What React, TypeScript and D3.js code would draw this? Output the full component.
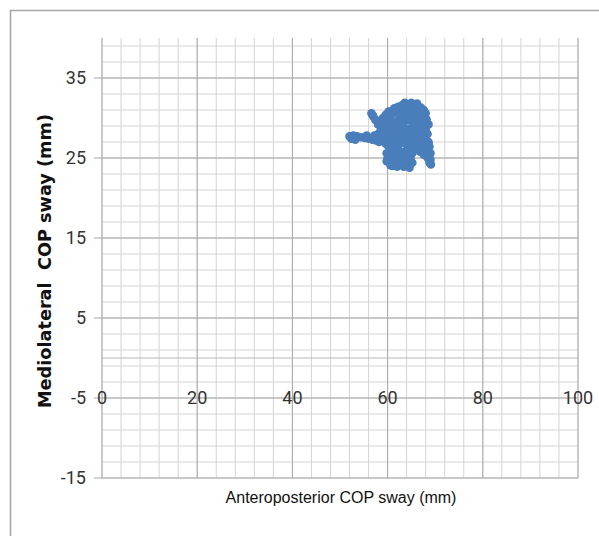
import React from "react";
import * as d3 from "d3";

// Anteroposterior (x) and mediolateral (y) COP sway samples, mm
const apSway: number[] = [
  52.0, 52.8, 53.6, 54.4, 55.2, 56.0, 56.8, 57.5, 58.2, 58.8, 59.2, 58.6, 58.0, 57.4, 56.8, 56.6,
  57.0, 57.8, 58.6, 59.4, 60.0, 60.6, 61.4, 62.2, 63.0, 63.8, 64.6, 65.4, 66.2, 67.0, 67.6, 68.0,
  67.4, 66.6, 65.8, 65.0, 64.2, 63.4, 62.6, 61.8, 61.0, 60.2, 59.6, 60.0, 60.8, 61.6, 62.4, 63.2,
  64.0, 64.8, 65.6, 66.4, 67.2, 68.0, 68.6, 68.8, 68.2, 67.4, 66.6, 65.8, 65.0, 64.4, 64.8, 65.2,
  64.6, 63.8, 63.0, 62.2, 61.4, 60.6, 60.0, 59.8, 60.4, 61.2, 62.0, 62.8, 63.6, 64.2, 63.6, 62.8,
  62.0, 61.4, 61.0, 61.6, 62.4, 63.2, 64.0, 64.8, 65.6, 66.4, 67.2, 68.2, 68.6, 68.0, 67.4, 66.6,
  65.8, 65.0, 64.2, 63.4, 62.6, 61.8, 61.0, 60.4, 59.8, 59.4, 60.0, 60.8, 61.6, 62.4, 63.2, 64.0,
  65.0, 66.0, 67.0, 66.2, 65.4, 64.6, 62.2, 61.4, 60.6, 60.0, 66.8, 67.6, 68.4, 68.8, 69.0,
  59.0, 59.6, 60.4, 61.2, 62.0, 62.6, 63.4, 64.2, 65.0, 65.8, 66.8, 67.6, 68.4, 68.6, 67.8, 67.0,
  66.0, 64.0, 63.2, 62.4, 61.6, 60.8, 60.2, 61.0, 62.0, 63.4, 64.6, 65.2, 63.0, 64.4, 65.4, 62.0,
  62.8, 63.6, 64.6, 65.4, 66.8, 67.8, 60.2, 59.6, 59.0, 66.2, 63.6, 65.0, 58.0, 57.2, 55.6, 53.2,
  52.4, 69.0, 69.1, 59.8, 60.6
];
const mlSway: number[] = [
  27.7, 27.8, 27.7, 27.6, 27.5, 27.4, 27.3, 27.2, 27.0, 27.4, 28.0, 28.6, 29.2, 29.8, 30.4, 30.6,
  30.2, 29.6, 29.2, 29.6, 30.2, 30.8, 31.2, 31.4, 31.6, 31.5, 31.7, 31.6, 31.5, 31.3, 31.0, 30.6,
  30.2, 30.4, 30.0, 29.6, 29.8, 29.4, 29.0, 28.6, 28.2, 27.8, 27.2, 26.6, 26.2, 26.6, 27.0, 27.4,
  27.8, 28.2, 28.6, 28.2, 27.8, 27.4, 27.0, 26.4, 26.0, 26.4, 26.8, 26.4, 26.0, 25.6, 25.0, 24.4,
  24.2, 24.4, 24.2, 24.4, 24.3, 24.6, 25.0, 25.6, 25.8, 25.6, 25.4, 25.6, 25.8, 26.2, 26.9, 27.2,
  27.6, 28.0, 28.8, 29.4, 29.8, 30.2, 30.6, 30.8, 31.0, 30.8, 30.6, 29.8, 29.2, 28.6, 29.0, 29.4,
  29.0, 28.8, 28.6, 28.2, 28.4, 28.8, 29.6, 29.0, 28.4, 28.8, 29.8, 30.4, 30.6, 30.6, 30.8, 31.2,
  31.4, 31.2, 30.0, 27.6, 27.2, 27.0, 26.4, 27.0, 27.4, 28.6, 25.8, 25.4, 25.0, 24.4, 24.8,
  27.6, 26.8, 26.9, 26.8, 26.6, 26.8, 27.0, 27.4, 27.6, 27.9, 28.2, 28.4, 28.0, 26.8, 26.8, 27.2,
  26.2, 25.2, 25.0, 24.8, 24.9, 25.2, 24.5, 24.0, 23.9, 23.9, 23.8, 25.6, 28.0, 28.0, 28.0, 28.2,
  29.6, 29.8, 30.2, 30.4, 29.8, 30.2, 30.8, 30.4, 30.0, 31.8, 31.9, 31.9, 28.0, 27.8, 27.8, 27.3,
  27.4, 25.6, 24.2, 24.6, 24.1
];

const xTicks = [0, 20, 40, 60, 80, 100];
const yTicks = [-15, -5, 5, 15, 25, 35];

const W = 599;
const H = 536;

export default function App() {
  const x = d3.scaleLinear().domain([0, 100]).range([102, 578]);
  const y = d3.scaleLinear().domain([-15, 40]).range([478, 38]);

  const xMinor = d3.range(0, 100.001, 4);
  const yMinor = d3.range(-15, 39.001, 2);

  const tickFont = "'Liberation Sans Narrow', 'Roboto', sans-serif";

  return (
    <svg
      width={W}
      height={H}
      style={{ position: "absolute", left: 0, top: 0, background: "#fff" }}
    >
      <rect x={0} y={0} width={W} height={H} fill="#fff" />
      {/* outer frame */}
      <line x1={10} y1={10.5} x2={W} y2={10.5} stroke="#a6a6a6" strokeWidth={1.6} />
      <line x1={10.5} y1={10} x2={10.5} y2={H} stroke="#a6a6a6" strokeWidth={1.6} />

      {/* minor grid */}
      {xMinor.map((v) => (
        <line key={"xm" + v} x1={x(v)} x2={x(v)} y1={y(40)} y2={y(-15)} stroke="#d4d4d4" strokeWidth={1} />
      ))}
      {yMinor.map((v) => (
        <line key={"ym" + v} x1={x(0)} x2={x(100)} y1={y(v)} y2={y(v)} stroke="#d4d4d4" strokeWidth={1} />
      ))}
      {/* major grid */}
      {xTicks.map((v) => (
        <line key={"xM" + v} x1={x(v)} x2={x(v)} y1={y(40)} y2={y(-15)} stroke="#a8a8a8" strokeWidth={1} />
      ))}
      {yTicks.map((v) => (
        <line key={"yM" + v} x1={x(0) - 8} x2={x(100)} y1={y(v)} y2={y(v)} stroke="#a8a8a8" strokeWidth={1} />
      ))}
      {/* zero line */}
      <line x1={x(0)} x2={x(100)} y1={y(0)} y2={y(0)} stroke="#b8b8b8" strokeWidth={1} />

      {/* points */}
      {apSway.map((v, i) => (
        <circle key={"p" + i} cx={x(v)} cy={y(mlSway[i])} r={4.3} fill="#4A7EBB" />
      ))}

      {/* y tick labels */}
      {yTicks.map((v) => (
        <text
          key={"yl" + v}
          x={86}
          y={y(v)}
          dy="0.36em"
          textAnchor="end"
          fontFamily={tickFont}
          fontSize={18}
          fill="#333"
        >
          {v}
        </text>
      ))}
      {/* x tick labels on the -5 line */}
      {xTicks.map((v) => (
        <text
          key={"xl" + v}
          x={x(v)}
          y={y(-5)}
          dy="0.36em"
          textAnchor="middle"
          fontFamily={tickFont}
          fontSize={18}
          fill="#333"
        >
          {v}
        </text>
      ))}

      {/* axis titles */}
      <text
        x={341}
        y={497}
        dy="0.35em"
        textAnchor="middle"
        fontFamily="'Liberation Sans', Arial, sans-serif"
        fontSize={16}
        fill="#111"
      >
        Anteroposterior COP sway (mm)
      </text>
      <text
        transform={`translate(45, 261) rotate(-90)`}
        textAnchor="middle"
        dy="0.35em"
        fontFamily="'DejaVu Sans', Verdana, sans-serif"
        fontWeight="bold"
        fontSize={17.7}
        fill="#111"
      >
        {"Mediolateral\u00a0 COP sway (mm)"}
      </text>
    </svg>
  );
}
